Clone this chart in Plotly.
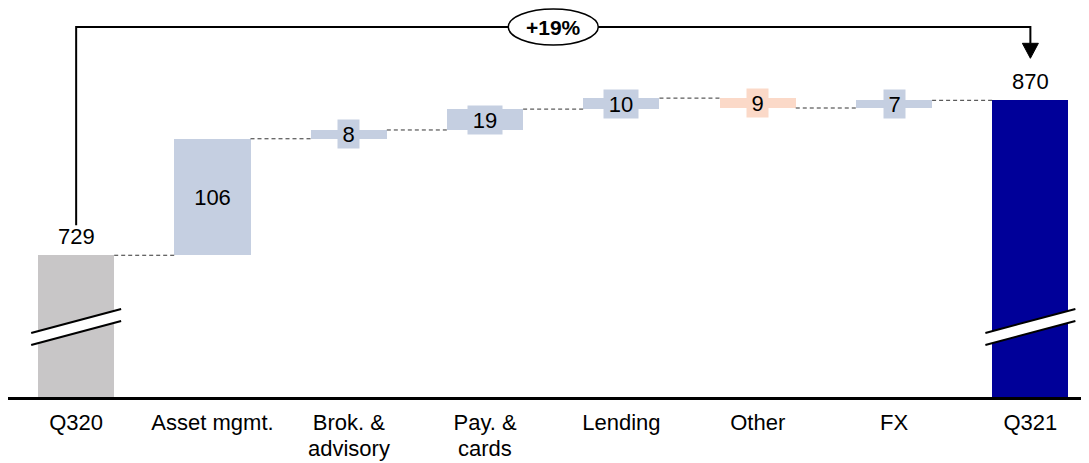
import plotly.graph_objects as go

# data
categories = ["Q320", "Asset mgmt.", "Brok. &<br>advisory", "Pay. &<br>cards",
              "Lending", "Other", "FX", "Q321"]
start_value = 729
deltas = [106, 8, 19, 10, -9, 7]
end_value = 870

GREY = "#C8C6C7"
BLUE = "#C5CFE1"
ORANGE = "#FBD9C8"
NAVY = "#000099"
FONT = "Arial, Liberation Sans, sans-serif"

# page has an 8px body margin, so the figure is 8px smaller each way
W, H = 1081, 455
M_L, M_B = 0, 66
PLOT_W, PLOT_H = W - M_L, H - M_B
X_RANGE = [-0.5, 7.43]
Y_RANGE = [600, 954]
BAR_W = 0.558


def dx(px):
    return px * (X_RANGE[1] - X_RANGE[0]) / PLOT_W


def dy(px):
    return px * (Y_RANGE[1] - Y_RANGE[0]) / PLOT_H


# running totals
levels = [start_value]
for d in deltas:
    levels.append(levels[-1] + d)

n = len(categories)
bases, heights, colors = [0], [start_value], [GREY]
for i, d in enumerate(deltas):
    bases.append(min(levels[i], levels[i + 1]))
    heights.append(abs(d))
    colors.append(BLUE if d >= 0 else ORANGE)
bases.append(0)
heights.append(end_value)
colors.append(NAVY)

fig = go.Figure()
fig.add_trace(go.Bar(
    x=list(range(n)), y=heights, base=bases, width=BAR_W,
    marker=dict(color=colors, line=dict(width=0)),
    hoverinfo="skip", showlegend=False,
))

shapes = []
annotations = []

# dashed connectors between bars
for i in range(n - 1):
    lvl = levels[i]
    shapes.append(dict(type="line", xref="x", yref="y",
                       x0=i + BAR_W / 2, x1=i + 1 - BAR_W / 2, y0=lvl, y1=lvl,
                       line=dict(color="#333333", width=1, dash="4px,3px")))

# delta labels with a small box in the bar colour
for i, d in enumerate(deltas):
    txt = str(abs(d))
    annotations.append(dict(
        x=i + 1, y=(levels[i] + levels[i + 1]) / 2, xref="x", yref="y",
        text=txt, showarrow=False, bgcolor=colors[i + 1], borderpad=0,
        width=8 + 13 * len(txt), height=28,
        font=dict(family=FONT, size=22, color="black"),
    ))

# total labels
for i, v in [(0, start_value), (n - 1, end_value)]:
    annotations.append(dict(
        x=i, y=v, xref="x", yref="y", yanchor="bottom", yshift=4,
        text=str(v), showarrow=False,
        font=dict(family=FONT, size=22, color="black"),
    ))

# axis break marks on both total bars
for i in [0, n - 1]:
    yc = Y_RANGE[0] + dy(70)
    hw, tilt, gap = dx(45), dy(12), dy(6)
    x0, x1 = i - hw, i + hw
    shapes.append(dict(
        type="path", xref="x", yref="y", layer="above",
        path=f"M{x0},{yc - tilt - gap} L{x1},{yc + tilt - gap} "
             f"L{x1},{yc + tilt + gap} L{x0},{yc - tilt + gap} Z",
        fillcolor="white", line=dict(width=0)))
    for s in (-gap, gap):
        shapes.append(dict(type="line", xref="x", yref="y", layer="above",
                           x0=x0, x1=x1, y0=yc - tilt + s, y1=yc + tilt + s,
                           line=dict(color="black", width=2)))

# growth bracket with arrow
top_y = Y_RANGE[0] + dy(370)
arrow_tip = end_value + dy(42)
arrow_base = end_value + dy(57)
shapes.append(dict(
    type="path", xref="x", yref="y",
    path=f"M0,{start_value + dy(30)} V{top_y} H{n - 1} V{arrow_base}",
    line=dict(color="black", width=2)))
shapes.append(dict(
    type="path", xref="x", yref="y",
    path=f"M{n - 1 - dx(8)},{arrow_base} L{n - 1 + dx(8)},{arrow_base} "
         f"L{n - 1},{arrow_tip} Z",
    fillcolor="black", line=dict(color="black", width=1)))
mid = (n - 1) / 2
shapes.append(dict(
    type="circle", xref="x", yref="y",
    x0=mid - dx(45), x1=mid + dx(45), y0=top_y - dy(18), y1=top_y + dy(18),
    fillcolor="white", line=dict(color="black", width=1.5)))
growth = round((end_value / start_value - 1) * 100)
annotations.append(dict(
    x=mid, y=top_y, xref="x", yref="y", text=f"<b>+{growth}%</b>",
    showarrow=False, font=dict(family=FONT, size=21, color="black")))

# category labels: first line as tick labels, second line as annotation
first_lines = [c.split("<br>")[0] for c in categories]
for i, c in enumerate(categories):
    parts = c.split("<br>")
    if len(parts) > 1:
        annotations.append(dict(
            x=i, y=-37 / PLOT_H, xref="x", yref="paper", yanchor="top",
            text=parts[1], showarrow=False,
            font=dict(family=FONT, size=22, color="black")))

fig.update_layout(
    width=W, height=H,
    margin=dict(l=M_L, r=0, t=0, b=M_B),
    plot_bgcolor="white", paper_bgcolor="white",
    shapes=shapes, annotations=annotations,
    bargap=0,
    xaxis=dict(range=X_RANGE, tickvals=list(range(n)), ticktext=first_lines,
               showline=True, linecolor="black", linewidth=2.5,
               showgrid=False, zeroline=False, ticks="", ticklabelstandoff=4,
               tickfont=dict(family=FONT, size=22, color="black")),
    yaxis=dict(range=Y_RANGE, visible=False, showgrid=False),
)

fig.write_html("out.html")
